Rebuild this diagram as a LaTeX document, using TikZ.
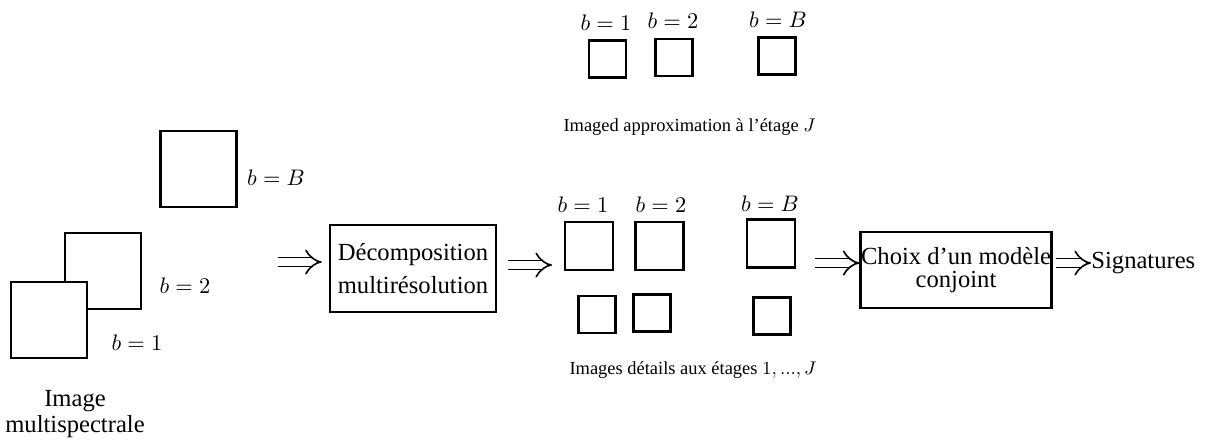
\documentclass[tikz,border=0pt]{standalone}
\usepackage{fontspec}
\setmainfont{Liberation Serif}
\usetikzlibrary{arrows.meta}

\tikzset{
  sq/.style={draw, line width=1.2pt, fill=white, inner sep=0pt},
  bigsq/.style={sq, minimum size=37pt},
  midsq/.style={sq, minimum size=23.4pt},
  smallsq/.style={sq, minimum size=18pt},
  bandlab/.style={font=\fontsize{11}{13}\selectfont, inner sep=0pt},
  caption/.style={font=\fontsize{9}{11}\selectfont, inner sep=0pt},
  bloc/.style={draw, line width=1.2pt, align=center, inner sep=0pt},
  imp/.style={double, double distance=3.5pt, line width=0.8pt, -{Implies}},
}

\begin{document}
\begin{tikzpicture}[x=0.4878pt, y=-0.4878pt, font=\fontsize{12}{14}\selectfont]
\useasboundingbox (0,0) rectangle (1205,439);

% Image multispectrale
\node[bigsq] (inB) at (198.5,169) {};
\node[bigsq] (in2) at (103,271) {};
\node[bigsq] (in1) at (49,320) {};
\node[bandlab] (labinB) at (276,178) {$b=B$};
\node[bandlab] (labin2) at (185,286) {$b=2$};
\node[bandlab] (labin1) at (137,343) {$b=1$};
\node[align=center, inner sep=0pt, font=\fontsize{12}{12.7}\selectfont] (inlab) at (75,414) {Image\\multispectrale};

% Decomposition
\node[bloc, minimum width=81pt, minimum height=42.4pt, font=\fontsize{12}{16}\selectfont] (decomp) at (413,268.5) {Décomposition\\multirésolution};

% Approximation a l'etage J
\node[smallsq] (ap1) at (607.5,59) {};
\node[smallsq] (ap2) at (674,57.5) {};
\node[smallsq] (apB) at (777,56) {};
\node[bandlab] (labap1) at (606,23) {$b=1$};
\node[bandlab] (labap2) at (673,21) {$b=2$};
\node[bandlab] (labapB) at (778,20) {$b=B$};
\node[caption] (capap) at (689.5,127) {Imaged approximation à l’étage $J$};

% Details aux etages 1..J
\node[midsq] (dt1) at (589,246) {};
\node[midsq] (dt2) at (659.5,246) {};
\node[midsq] (dtB) at (771,243.5) {};
\node[smallsq] (db1) at (597,314.5) {};
\node[smallsq] (db2) at (652,313) {};
\node[smallsq] (dbB) at (772,316) {};
\node[bandlab] (labdt1) at (583,205) {$b=1$};
\node[bandlab] (labdt2) at (661,205) {$b=2$};
\node[bandlab] (labdtB) at (770,204) {$b=B$};
\node[caption] (capdt) at (693,370) {Images détails aux étages $1, ..., J$};

% Choix du modele
\node[bloc, minimum width=93pt, minimum height=37pt, font=\fontsize{12}{11}\selectfont] (choix) at (956,270) {Choix d’un modèle\\conjoint};
\node[anchor=west, inner sep=0pt] (sig) at (1091,263) {Signatures};

% Arrows
\coordinate (a1) at (278,262);
\coordinate (a2) at (508,265);
\coordinate (a2e) at (552,265);
\coordinate (a3) at (815,263);
\draw[imp] (a1) -- (decomp.west |- a1) [shorten >=7*0.4878pt];
\draw[imp] (a2) -- (a2e);
\draw[imp] (a3) -- (choix.west |- a3);
\draw[imp] (choix.east |- sig) ++(3,0) -- (sig.west);
\end{tikzpicture}
\end{document}
